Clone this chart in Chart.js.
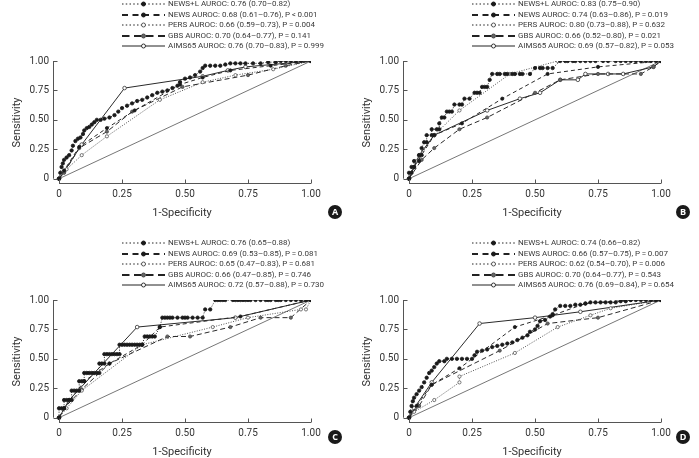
<!DOCTYPE html>
<html>
<head>
<meta charset="utf-8">
<script src="https://cdn.jsdelivr.net/npm/chart.js@4"></script>
<style>
  body { margin:0; width:699px; height:458px; background:#fff; position:relative; overflow:hidden; font-family:Roboto, "Noto Sans", sans-serif; }
  canvas { position:absolute; }
  .legend { position:absolute; color:#3a3a3a; font-size:8px; line-height:10.5px; white-space:nowrap; }
  .legend div { display:flex; align-items:center; height:10.5px; }
  .legend svg { margin-right:3px; }
  .badge { position:absolute; width:14px; height:14px; border-radius:50%; background:#1a1a1a; color:#fff;
           font:bold 9px "Open Sans", sans-serif; text-align:center; line-height:14px; }
</style>
</head>
<body>
<canvas id="cA" width="350" height="180" style="left:0;top:50px"></canvas>
<canvas id="cB" width="350" height="180" style="left:350px;top:50px"></canvas>
<canvas id="cC" width="350" height="180" style="left:0;top:289px"></canvas>
<canvas id="cD" width="350" height="180" style="left:350px;top:289px"></canvas>
<div class="legend" id="lA" style="left:122px;top:-1px"></div>
<div class="legend" id="lB" style="left:472px;top:-1px"></div>
<div class="legend" id="lC" style="left:122px;top:238px"></div>
<div class="legend" id="lD" style="left:472px;top:238px"></div>
<div class="badge" style="left:328px;top:205px">A</div>
<div class="badge" style="left:676px;top:205px">B</div>
<div class="badge" style="left:328px;top:430px">C</div>
<div class="badge" style="left:676px;top:430px">D</div>
<script>
// ticks (both axes)
const tickVals = [0, 0.25, 0.5, 0.75, 1];
const tickText = ['0', '0.25', '0.50', '0.75', '1.00'];
const seriesNames = ['NEWS+L', 'NEWS', 'PERS', 'GBS', 'AIMS65'];

// legend texts
const legendA = ['NEWS+L AUROC: 0.76 (0.70–0.82)', 'NEWS AUROC: 0.68 (0.61–0.76), P\u2009<\u20090.001',
  'PERS AUROC: 0.66 (0.59–0.73), P\u2009=\u20090.004', 'GBS AUROC: 0.70 (0.64–0.77), P\u2009=\u20090.141',
  'AIMS65 AUROC: 0.76 (0.70–0.83), P\u2009=\u20090.999'];
const legendB = ['NEWS+L AUROC: 0.83 (0.75–0.90)', 'NEWS AUROC: 0.74 (0.63–0.86), P\u2009=\u20090.019',
  'PERS AUROC: 0.80 (0.73–0.88), P\u2009=\u20090.632', 'GBS AUROC: 0.66 (0.52–0.80), P\u2009=\u20090.021',
  'AIMS65 AUROC: 0.69 (0.57–0.82), P\u2009=\u20090.053'];
const legendC = ['NEWS+L AUROC: 0.76 (0.65–0.88)', 'NEWS AUROC: 0.69 (0.53–0.85), P\u2009=\u20090.081',
  'PERS AUROC: 0.65 (0.47–0.83), P\u2009=\u20090.681', 'GBS AUROC: 0.66 (0.47–0.85), P\u2009=\u20090.746',
  'AIMS65 AUROC: 0.72 (0.57–0.88), P\u2009=\u20090.730'];
const legendD = ['NEWS+L AUROC: 0.74 (0.66–0.82)', 'NEWS AUROC: 0.66 (0.57–0.75), P\u2009=\u20090.007',
  'PERS AUROC: 0.62 (0.54–0.70), P\u2009=\u20090.006', 'GBS AUROC: 0.70 (0.64–0.77), P\u2009=\u20090.543',
  'AIMS65 AUROC: 0.76 (0.69–0.84), P\u2009=\u20090.654'];

// ROC points [1-specificity, sensitivity]
// panel A
const newsL_A = [[0,0],[0.005,0.05],[0.01,0.1],[0.015,0.13],[0.02,0.16],[0.03,0.18],[0.04,0.2],[0.05,0.24],[0.055,0.28],[0.065,0.32],[0.075,0.34],[0.085,0.35],[0.095,0.38],[0.1,0.41],[0.11,0.43],[0.12,0.44],[0.13,0.46],[0.14,0.48],[0.15,0.5],[0.165,0.5],[0.18,0.51],[0.2,0.52],[0.22,0.54],[0.235,0.57],[0.25,0.6],[0.27,0.62],[0.29,0.64],[0.31,0.66],[0.33,0.67],[0.35,0.69],[0.37,0.71],[0.39,0.73],[0.41,0.74],[0.43,0.75],[0.45,0.77],[0.47,0.79],[0.48,0.82],[0.5,0.85],[0.52,0.86],[0.54,0.88],[0.56,0.91],[0.57,0.94],[0.58,0.96],[0.6,0.96],[0.62,0.96],[0.64,0.96],[0.66,0.97],[0.68,0.98],[0.7,0.98],[0.72,0.98],[0.74,0.98],[0.77,0.98],[0.8,0.98],[0.83,0.99],[0.86,0.99],[0.88,1],[0.9,1],[0.92,1],[0.94,1],[0.96,1],[1,1]];
const news_A = [[0,0],[0.02,0.07],[0.08,0.27],[0.19,0.43],[0.3,0.58],[0.48,0.8],[0.57,0.86],[0.68,0.92],[0.84,0.96],[1,1]];
const pers_A = [[0,0],[0.03,0.08],[0.09,0.2],[0.19,0.36],[0.4,0.67],[0.57,0.82],[0.7,0.88],[0.85,0.93],[1,1]];
const gbs_A = [[0,0],[0.02,0.05],[0.08,0.26],[0.19,0.4],[0.29,0.57],[0.49,0.78],[0.75,0.88],[0.9,0.96],[1,1]];
const aims_A = [[0,0],[0.02,0.06],[0.09,0.29],[0.26,0.77],[0.57,0.87],[0.67,0.92],[0.74,0.95],[1,1]];
// panel B
const newsL_B = [[0,0],[0,0.05],[0.01,0.05],[0.01,0.1],[0.02,0.1],[0.02,0.15],[0.04,0.15],[0.04,0.2],[0.05,0.2],[0.05,0.26],[0.06,0.31],[0.07,0.31],[0.07,0.37],[0.09,0.37],[0.09,0.42],[0.11,0.42],[0.12,0.42],[0.12,0.47],[0.13,0.52],[0.14,0.52],[0.15,0.57],[0.16,0.57],[0.17,0.57],[0.18,0.63],[0.2,0.63],[0.21,0.63],[0.22,0.68],[0.24,0.68],[0.26,0.73],[0.27,0.73],[0.28,0.73],[0.29,0.78],[0.3,0.78],[0.31,0.78],[0.32,0.84],[0.33,0.89],[0.35,0.89],[0.36,0.89],[0.38,0.89],[0.39,0.89],[0.41,0.89],[0.42,0.89],[0.44,0.89],[0.45,0.89],[0.48,0.89],[0.5,0.94],[0.52,0.94],[0.53,0.94],[0.55,0.94],[0.57,0.94],[0.6,1],[0.62,1],[0.63,1],[0.65,1],[0.66,1],[0.68,1],[0.7,1],[0.72,1],[0.74,1],[0.77,1],[0.79,1],[0.82,1],[0.84,1],[0.86,1],[0.88,1],[0.9,1],[0.92,1],[0.94,1],[0.96,1],[0.98,1],[1,1]];
const news_B = [[0,0],[0.02,0.1],[0.1,0.37],[0.21,0.47],[0.37,0.68],[0.55,0.89],[0.75,0.95],[1,1]];
const pers_B = [[0,0],[0.03,0.15],[0.1,0.37],[0.2,0.58],[0.4,0.89],[0.59,1],[1,1]];
const gbs_B = [[0,0],[0.05,0.16],[0.1,0.26],[0.2,0.42],[0.31,0.52],[0.5,0.73],[0.6,0.84],[0.75,0.89],[0.92,0.89],[0.97,0.95],[1,1]];
const aims_B = [[0,0],[0.04,0.2],[0.1,0.37],[0.31,0.58],[0.44,0.68],[0.52,0.73],[0.6,0.84],[0.67,0.84],[0.7,0.89],[0.79,0.89],[0.85,0.89],[0.97,0.95],[1,1]];
// panel C
const newsL_C = [[0,0],[0,0.08],[0.01,0.08],[0.02,0.08],[0.02,0.15],[0.03,0.15],[0.04,0.15],[0.05,0.15],[0.05,0.23],[0.06,0.23],[0.07,0.23],[0.08,0.23],[0.08,0.31],[0.09,0.31],[0.1,0.31],[0.1,0.38],[0.11,0.38],[0.12,0.38],[0.13,0.38],[0.14,0.38],[0.15,0.38],[0.16,0.38],[0.16,0.46],[0.17,0.46],[0.18,0.46],[0.18,0.54],[0.19,0.54],[0.2,0.54],[0.21,0.54],[0.22,0.54],[0.23,0.54],[0.24,0.54],[0.24,0.62],[0.25,0.62],[0.26,0.62],[0.27,0.62],[0.28,0.62],[0.29,0.62],[0.3,0.62],[0.31,0.62],[0.32,0.62],[0.33,0.62],[0.34,0.69],[0.35,0.69],[0.36,0.69],[0.37,0.69],[0.38,0.69],[0.4,0.77],[0.41,0.85],[0.42,0.85],[0.43,0.85],[0.44,0.85],[0.45,0.85],[0.47,0.85],[0.49,0.85],[0.5,0.85],[0.51,0.85],[0.53,0.85],[0.55,0.85],[0.57,0.85],[0.58,0.92],[0.6,0.92],[0.62,1],[0.63,1],[0.64,1],[0.65,1],[0.66,1],[0.69,1],[0.7,1],[0.71,1],[0.72,1],[0.73,1],[0.74,1],[0.75,1],[0.76,1],[0.78,1],[0.8,1],[0.82,1],[0.83,1],[0.84,1],[0.86,1],[0.87,1],[0.88,1],[0.9,1],[0.92,1],[0.94,1],[0.96,1],[0.98,1],[1,1]];
const news_C = [[0,0],[0.02,0.08],[0.1,0.31],[0.2,0.46],[0.33,0.62],[0.4,0.77],[0.72,0.86],[1,1]];
const pers_C = [[0,0],[0.03,0.08],[0.09,0.23],[0.33,0.62],[0.61,0.77],[0.75,0.85],[0.96,0.92],[0.98,0.92],[1,1]];
const gbs_C = [[0,0],[0.02,0.08],[0.09,0.24],[0.2,0.46],[0.43,0.69],[0.52,0.69],[0.68,0.77],[0.8,0.85],[0.92,0.85],[1,1]];
const aims_C = [[0,0],[0.04,0.15],[0.31,0.77],[0.7,0.85],[1,1]];
// panel D
const newsL_D = [[0,0],[0.005,0.05],[0.01,0.1],[0.015,0.14],[0.02,0.17],[0.03,0.2],[0.04,0.23],[0.05,0.26],[0.06,0.3],[0.07,0.34],[0.08,0.38],[0.09,0.4],[0.1,0.43],[0.11,0.46],[0.12,0.48],[0.14,0.48],[0.15,0.5],[0.17,0.5],[0.19,0.5],[0.21,0.5],[0.23,0.5],[0.25,0.5],[0.26,0.53],[0.27,0.56],[0.29,0.57],[0.31,0.58],[0.33,0.6],[0.35,0.61],[0.37,0.62],[0.39,0.63],[0.41,0.64],[0.43,0.66],[0.45,0.68],[0.47,0.7],[0.48,0.73],[0.5,0.75],[0.51,0.78],[0.52,0.82],[0.54,0.83],[0.56,0.86],[0.57,0.88],[0.58,0.92],[0.6,0.95],[0.62,0.95],[0.64,0.95],[0.66,0.96],[0.68,0.96],[0.7,0.97],[0.72,0.98],[0.74,0.98],[0.76,0.98],[0.78,0.98],[0.8,0.98],[0.82,0.98],[0.84,0.99],[0.86,0.99],[0.88,1],[0.9,1],[0.92,1],[0.94,1],[0.96,1],[0.98,1],[1,1]];
const news_D = [[0,0],[0.03,0.1],[0.09,0.28],[0.2,0.42],[0.42,0.77],[0.57,0.87],[0.7,0.97],[0.88,1],[1,1]];
const pers_D = [[0,0],[0.02,0.05],[0.1,0.15],[0.2,0.3],[0.2,0.35],[0.42,0.55],[0.59,0.77],[0.72,0.87],[0.8,0.93],[1,1]];
const gbs_D = [[0,0],[0.04,0.1],[0.09,0.28],[0.36,0.57],[0.55,0.8],[0.75,0.85],[1,1]];
const aims_D = [[0,0],[0.02,0.08],[0.09,0.3],[0.28,0.8],[0.5,0.85],[0.68,0.9],[1,1]];
const diag = [[0,0],[1,1]];

// line / marker styles per series
const styles = [
  { dash:[1,1.5], w:1,   r:1.7, fill:'#1a1a1a', edge:'#1a1a1a' },
  { dash:[4,3],   w:1,   r:1.6, fill:'#1a1a1a', edge:'#1a1a1a' },
  { dash:[1,1.5], w:0.8, r:1.6, fill:'#ffffff', edge:'#555' },
  { dash:[5,3],   w:1,   r:1.6, fill:'#666',    edge:'#444' },
  { dash:[],      w:1,   r:1.8, fill:'#ffffff', edge:'#333' }
];

Chart.defaults.font.family = 'Roboto, "Noto Sans", sans-serif';
Chart.defaults.color = '#333';

const toXY = pts => pts.map(p => ({ x:p[0], y:p[1] }));

const axisLines = {
  id:'axisLines',
  afterDraw(chart) {
    const { ctx, scales:{ x, y }, chartArea:a } = chart;
    ctx.save();
    ctx.strokeStyle = '#555';
    ctx.lineWidth = 1;
    ctx.beginPath();
    const lx = Math.round(a.left) + 0.5, by = Math.round(a.bottom) - 0.5;
    ctx.moveTo(lx, y.getPixelForValue(0)); ctx.lineTo(lx, y.getPixelForValue(1));
    tickVals.forEach(v => { const p = Math.round(y.getPixelForValue(v)) + 0.5; ctx.moveTo(lx, p); ctx.lineTo(lx + 4, p); });
    ctx.moveTo(x.getPixelForValue(0), by); ctx.lineTo(x.getPixelForValue(1), by);
    tickVals.forEach(v => { const p = Math.round(x.getPixelForValue(v)) + 0.5; ctx.moveTo(p, by); ctx.lineTo(p, by - 4); });
    ctx.stroke();
    ctx.restore();
  }
};

function legendSvg(s) {
  const dash = s.dash.length ? `stroke-dasharray="${s.dash.map(d => d * 1.5).join(' ')}"` : '';
  return `<svg width="43" height="8"><line x1="0" y1="4" x2="43" y2="4" stroke="#222" stroke-width="${s.dash.length && s.dash[0] > 2 ? 1.8 : 1}" ${dash}/>` +
    `<circle cx="21.5" cy="4" r="2" fill="${s.fill}" stroke="${s.edge}" stroke-width="1"/></svg>`;
}

function drawPanel(id, legendId, sets, texts) {
  document.getElementById(legendId).innerHTML =
    texts.map((t, i) => `<div>${legendSvg(styles[i])}<span>${t}</span></div>`).join('');
  const datasets = sets.map((pts, i) => ({
    label: seriesNames[i], data: toXY(pts), showLine: true,
    borderColor: '#2a2a2a', borderWidth: styles[i].w, borderDash: styles[i].dash,
    pointRadius: styles[i].r, pointBackgroundColor: styles[i].fill,
    pointBorderColor: styles[i].edge, pointBorderWidth: 0.8, order: i
  }));
  datasets.push({ label:'ref', data: toXY(diag), showLine:true, borderColor:'#777',
    borderWidth:1, pointRadius:0, order:10 });
  new Chart(document.getElementById(id), {
    type: 'scatter',
    data: { datasets },
    plugins: [axisLines],
    options: {
      responsive:false, animation:false, devicePixelRatio:1,
      layout:{ padding:{ top:11, right:39, bottom:0, left:0 } },
      plugins:{ legend:{ display:false }, tooltip:{ enabled:false } },
      scales:{
        x:{ type:'linear', min:-0.024, max:1,
            afterBuildTicks: s => { s.ticks = tickVals.map(v => ({ value:v })); },
            afterFit: s => { s.height = 46; },
            grid:{ display:false, drawTicks:false }, border:{ display:false },
            ticks:{ padding:4, autoSkip:false, maxRotation:0, font:{ size:10 },
                    callback: v => tickText[tickVals.indexOf(v)] },
            title:{ display:true, text:'1-Specificity', font:{ size:11 }, padding:{ top:0, bottom:10 } } },
        y:{ type:'linear', min:-0.045, max:1,
            afterBuildTicks: s => { s.ticks = tickVals.map(v => ({ value:v })); },
            afterFit: s => { s.width = 53; },
            grid:{ display:false, drawTicks:false }, border:{ display:false },
            ticks:{ padding:4, autoSkip:false, font:{ size:10 },
                    callback: v => tickText[tickVals.indexOf(v)] },
            title:{ display:true, text:'Sensitivity', font:{ size:11 }, padding:{ top:11, bottom:0 } } }
      }
    }
  });
}

drawPanel('cA', 'lA', [newsL_A, news_A, pers_A, gbs_A, aims_A], legendA);
drawPanel('cB', 'lB', [newsL_B, news_B, pers_B, gbs_B, aims_B], legendB);
drawPanel('cC', 'lC', [newsL_C, news_C, pers_C, gbs_C, aims_C], legendC);
drawPanel('cD', 'lD', [newsL_D, news_D, pers_D, gbs_D, aims_D], legendD);
</script>
</body>
</html>
